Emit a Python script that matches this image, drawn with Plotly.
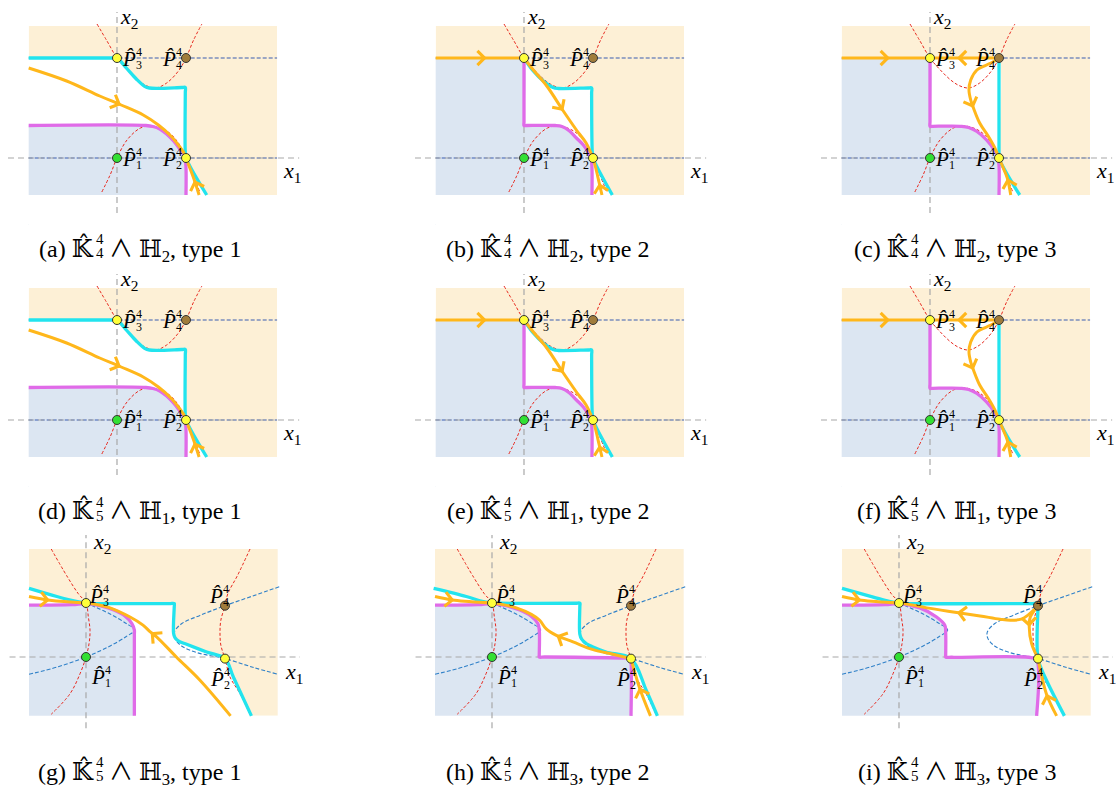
import math
import plotly.graph_objects as go

W, H = 1118, 791

# ------------------------------------------------------------------ text
PANEL_LETTERS = ["a", "b", "c", "d", "e", "f", "g", "h", "i"]
K_SUBSCRIPTS = ["4", "4", "4", "5", "5", "5", "5", "5", "5"]
H_SUBSCRIPTS = ["2", "2", "2", "1", "1", "1", "3", "3", "3"]
TYPE_NUMBERS = ["1", "2", "3", "1", "2", "3", "1", "2", "3"]
POINT_NAMES = ["1", "2", "3", "4"]

# ------------------------------------------------------------------ data (panel units: P1=(0,0), P2=(1,0), P3=(0,1))
PTS_TOP_X = [0, 1, 0, 1]
PTS_TOP_Y = [0, 0, 1, 1]
PTS_BOT_X = [0, 1, 0, 1]
PTS_BOT_Y = [0, -0.03, 1, 0.95]

RECT_TOP_X = [-1.28, 2.32]
RECT_TOP_Y = [-0.37, 1.32]
RECT_BOT_X = [-0.41, 1.38]
RECT_BOT_Y = [-1.09, 2.0]

AXIS_TOP_H_X = [-1.58, 2.64]
AXIS_TOP_V_Y = [-0.55, 1.46]
AXIS_BOT_H_X = [-0.55, 1.54]
AXIS_BOT_V_Y = [-1.32, 2.26]
BLUE_LEVELS_TOP = [0, 1]

RED_UP_X = [-0.29, -0.145, 0, 0.15, 0.3, 0.42, 0.56, 0.72, 0.89, 1, 1.11, 1.23]
RED_UP_Y = [1.34, 1.17, 1, 0.88, 0.78, 0.725, 0.70, 0.75, 0.87, 1, 1.18, 1.34]
RED_LO_X = [-0.22, -0.1, 0, 0.145, 0.34, 0.51, 0.72, 0.88, 1, 1.1, 1.2]
RED_LO_Y = [-0.34, -0.17, 0, 0.18, 0.30, 0.32, 0.27, 0.16, 0, -0.17, -0.34]

RED_L_X = [-0.25, -0.14, -0.055, 0, 0.017, 0.029, 0.022, 0, -0.043, -0.115, -0.25]
RED_L_Y = [2.0, 1.51, 1.17, 1.0, 0.74, 0.49, 0.25, 0, -0.31, -0.68, -1.06]
RED_R_X = [1.18, 1.09, 1.02, 1.0, 0.97, 0.964, 0.97, 1.0, 1.036, 1.108, 1.18]
RED_R_Y = [2.0, 1.51, 1.17, 0.95, 0.68, 0.46, 0.22, -0.03, -0.37, -0.68, -1.06]
BLUE_L_X = [-0.41, -0.2, 0, 0.17, 0.29, 0.35, 0.29, 0.17, 0]
BLUE_L_Y = [-0.32, -0.18, 0, 0.2, 0.38, 0.5, 0.62, 0.8, 1]
BLUE_R_X = [1.39, 1.2, 1.0, 0.82, 0.69, 0.635, 0.64, 0.69, 0.8, 1.0, 1.2, 1.38]
BLUE_R_Y = [1.30, 1.13, 0.95, 0.77, 0.62, 0.46, 0.34, 0.2, 0.08, -0.03, -0.19, -0.32]

LEAD_LEFT_X = [-1.28, -0.05]
LEAD_LEFT_Y = [1, 1]
LEAD_C_X = [-1.28, 0.95]
LEAD_C_Y = [1, 1]

CYAN_A_X = [-1.28, -0.05, 0, 0.135, 0.28, 0.40, 0.47, 0.94, 0.99, 0.99, 0.99, 1.0, 1.3]
CYAN_A_Y = [1.0, 1.0, 1.0, 0.90, 0.79, 0.717, 0.70, 0.705, 0.705, 0.66, 0.05, 0.0, -0.37]
MAG_A_X = [-1.28, 0.42, 0.52, 0.62, 0.72, 0.82, 0.9, 0.96, 0.99, 1.0, 1.0]
MAG_A_Y = [0.325, 0.325, 0.315, 0.29, 0.24, 0.17, 0.1, 0.04, -0.02, -0.1, -0.37]
ORANGE_A1_X = [-1.28, -0.73, -0.25, 0.06, 0.38, 0.6, 0.78, 0.9, 0.97, 1.0]
ORANGE_A1_Y = [0.90, 0.77, 0.62, 0.53, 0.43, 0.33, 0.22, 0.12, 0.05, 0.0]
ORANGE_A2_X = [1.19, 1.12, 1.05, 1.0]
ORANGE_A2_Y = [-0.37, -0.22, -0.09, 0.0]

CYAN_B_X = [0, 0.135, 0.28, 0.42, 0.5, 0.93, 0.98, 0.98, 0.99, 1.0, 1.28]
CYAN_B_Y = [1, 0.87, 0.77, 0.705, 0.695, 0.70, 0.70, 0.65, 0.05, 0.0, -0.37]
MAG_B_X = [0, 0, 0, 0.04, 0.45, 0.55, 0.66, 0.76, 0.86, 0.93, 0.975, 0.985, 0.985]
MAG_B_Y = [1, 0.36, 0.325, 0.325, 0.325, 0.315, 0.27, 0.2, 0.13, 0.06, -0.02, -0.1, -0.37]
ORANGE_B1_X = [-1.28, -0.54, 0]
ORANGE_B1_Y = [1, 1, 1]
ORANGE_B2_X = [0, 0.135, 0.33, 0.57, 0.76, 0.9, 1.0]
ORANGE_B2_Y = [1, 0.88, 0.72, 0.47, 0.28, 0.15, 0.0]
ORANGE_B3_X = [1.13, 1.09, 1.04, 1.0]
ORANGE_B3_Y = [-0.37, -0.25, -0.1, 0]

CYAN_C_X = [1, 1, 1, 1.3]
CYAN_C_Y = [1, 0.05, 0, -0.37]
MAG_C_X = [0, 0, 0, 0.04, 0.46, 0.56, 0.68, 0.82, 0.94, 0.985, 1.0, 1.0]
MAG_C_Y = [1, 0.36, 0.317, 0.317, 0.317, 0.305, 0.265, 0.18, 0.07, 0.0, -0.07, -0.37]
ORANGE_C1_X = [-1.28, -0.58, 0]
ORANGE_C1_Y = [1, 1, 1]
ORANGE_C2_X = [1, 0.39, 0]
ORANGE_C2_Y = [1, 1, 1]
ORANGE_C3_X = [0.97, 0.82, 0.68, 0.59, 0.565, 0.59, 0.63, 0.72, 0.845, 0.94, 1.0]
ORANGE_C3_Y = [0.98, 0.93, 0.88, 0.78, 0.68, 0.58, 0.50, 0.35, 0.217, 0.10, 0.0]
ORANGE_C4_X = [1.17, 1.12, 1.05, 1.0]
ORANGE_C4_Y = [-0.37, -0.2, -0.08, 0]

CYAN_G_X = [-0.41, -0.21, -0.07, 0, 0.06, 0.6, 0.635, 0.635, 0.63, 0.64, 0.67, 0.724, 0.868, 1.0, 1.06, 1.19]
CYAN_G_Y = [1.27, 1.12, 1.03, 1.0, 0.99, 0.99, 0.99, 0.94, 0.44, 0.36, 0.29, 0.235, 0.093, -0.03, -0.37, -1.09]
MAG_G_X = [-0.41, -0.1, 0, 0.1, 0.2, 0.28, 0.33, 0.348, 0.348, 0.348]
MAG_G_Y = [0.96, 0.97, 0.99, 0.95, 0.87, 0.76, 0.62, 0.5, 0.42, -1.09]
ORANGE_G1_X = [-0.41, -0.26, 0]
ORANGE_G1_Y = [1.12, 1.05, 1.0]
ORANGE_G2_X = [1.04, 0.82, 0.65, 0.51, 0.465, 0.41, 0.317, 0.173, 0.08, 0]
ORANGE_G2_Y = [-1.09, -0.43, 0.0, 0.37, 0.46, 0.59, 0.74, 0.91, 0.97, 1.0]

CYAN_H_X = [-0.42, -0.185, -0.07, 0, 0.06, 0.6, 0.632, 0.632, 0.632, 0.645, 0.68, 0.727, 0.82, 1.0, 1.11, 1.19]
CYAN_H_Y = [1.27, 1.12, 1.03, 1.0, 0.995, 0.995, 0.995, 0.94, 0.42, 0.33, 0.245, 0.185, 0.09, -0.03, -0.62, -1.09]
MAG_H_X = [-0.41, -0.1, 0, 0.1, 0.2, 0.28, 0.33, 0.34, 0.34, 0.34, 0.38, 0.95, 0.995, 1.0, 1.0]
MAG_H_Y = [0.96, 0.97, 0.99, 0.95, 0.87, 0.76, 0.62, 0.5, 0.04, 0.0, 0.0, -0.02, -0.03, -0.08, -1.09]
ORANGE_H1_X = [-0.41, -0.27, 0]
ORANGE_H1_Y = [1.12, 1.05, 1.0]
ORANGE_H2_X = [1.0, 0.87, 0.727, 0.583, 0.463, 0.39, 0.343, 0.283, 0.175, 0.08, 0]
ORANGE_H2_Y = [-0.03, 0.05, 0.136, 0.28, 0.40, 0.52, 0.68, 0.79, 0.91, 0.97, 1.0]
ORANGE_H3_X = [1.14, 1.06, 1.0]
ORANGE_H3_Y = [-1.09, -0.56, -0.03]

CYAN_I_X = [-0.41, -0.185, -0.07, 0, 0.06, 0.95, 1.0, 1.0, 1.0, 1.05, 1.19]
CYAN_I_Y = [1.27, 1.11, 1.03, 1.0, 0.99, 0.99, 0.99, 0.93, -0.03, -0.37, -1.09]
MAG_I_X = [-0.41, -0.1, 0, 0.15, 0.27, 0.33, 0.336, 0.336, 0.336, 0.38, 0.95, 0.99, 0.99]
MAG_I_Y = [0.96, 0.97, 0.99, 0.91, 0.74, 0.586, 0.43, 0.04, 0.0, -0.005, -0.01, -0.05, -1.09]
ORANGE_I1_X = [-0.41, -0.27, 0]
ORANGE_I1_Y = [1.12, 1.05, 1.0]
ORANGE_I2_X = [1.0, 0.93, 0.88, 0.8, 0.727, 0.583, 0.415, 0.2, 0.08, 0]
ORANGE_I2_Y = [0.95, 0.78, 0.70, 0.68, 0.70, 0.76, 0.825, 0.91, 0.97, 1.0]
ORANGE_I3_X = [1.0, 0.945, 0.937, 0.954, 1.0]
ORANGE_I3_Y = [0.95, 0.74, 0.555, 0.247, -0.03]
ORANGE_I4_X = [1.134, 1.06, 1.0]
ORANGE_I4_Y = [-1.09, -0.68, -0.03]

# ------------------------------------------------------------------ styling / layout
ORANGE_BG = "#FDF0D6"
BLUE_BG = "#DCE6F2"
CYAN = "#22E4EE"
MAGENTA = "#E06BE8"
ORANGE = "#FFB71B"
RED = "#E8281E"
BLUE_DASH_TOP = "#3A5DB0"
BLUE_DASH_BOT = "#2F80C8"
GREY = "#A8A8A8"
POINT_COLORS = ["#33E033", "#FFFF3A", "#FFFF3A", "#A07C3C"]
SERIF = "Liberation Serif, DejaVu Serif, serif"
WEDGE = "<span style=\"font-family:'Noto Sans CJK JP'\">\u2227</span>"

TOP_GEOM = dict(ux=69, uy=100, box=(-117, 185, -158, 67))
BOT_GEOM = dict(ux=139, uy=54, box=(-86, 218, -132, 73))
COL_X_TOP = [117, 524, 930]
ROW_Y_TOP = [158, 420]
COL_X_BOT = [86, 492, 899]
ROW_Y_BOT = 657
TOP_LABEL_OFF = [(12, 1), (-17, 1), (12, 1), (-17, 1)]
BOT_LABEL_OFF = [(12, 20), (-8, 20), (10, -7), (-9, -10)]
CAP_CX = [158, 566, 973]
CAP_CY = [247, 510, 770]

TOP_SETS = [
    dict(cyan=(CYAN_A_X, CYAN_A_Y), mag=(MAG_A_X, MAG_A_Y),
         wlead=([], []), blead=([], []),
         orange=[(ORANGE_A1_X, ORANGE_A1_Y, [3]), (ORANGE_A2_X, ORANGE_A2_Y, [1])]),
    dict(cyan=(CYAN_B_X, CYAN_B_Y), mag=(MAG_B_X, MAG_B_Y),
         wlead=(LEAD_LEFT_X, LEAD_LEFT_Y), blead=(LEAD_LEFT_X, LEAD_LEFT_Y),
         orange=[(ORANGE_B1_X, ORANGE_B1_Y, [1]), (ORANGE_B2_X, ORANGE_B2_Y, [3]),
                 (ORANGE_B3_X, ORANGE_B3_Y, [1])]),
    dict(cyan=(CYAN_C_X, CYAN_C_Y), mag=(MAG_C_X, MAG_C_Y),
         wlead=(LEAD_C_X, LEAD_C_Y), blead=(LEAD_LEFT_X, LEAD_LEFT_Y),
         orange=[(ORANGE_C1_X, ORANGE_C1_Y, [1]), (ORANGE_C2_X, ORANGE_C2_Y, [1]),
                 (ORANGE_C3_X, ORANGE_C3_Y, [6]), (ORANGE_C4_X, ORANGE_C4_Y, [1])]),
]
BOT_SETS = [
    dict(cyan=(CYAN_G_X, CYAN_G_Y), mag=(MAG_G_X, MAG_G_Y), wlead=([], []), blead=([], []),
         orange=[(ORANGE_G1_X, ORANGE_G1_Y, [1]), (ORANGE_G2_X, ORANGE_G2_Y, [4])]),
    dict(cyan=(CYAN_H_X, CYAN_H_Y), mag=(MAG_H_X, MAG_H_Y), wlead=([], []), blead=([], []),
         orange=[(ORANGE_H1_X, ORANGE_H1_Y, [1]), (ORANGE_H2_X, ORANGE_H2_Y, [4]),
                 (ORANGE_H3_X, ORANGE_H3_Y, [1])]),
    dict(cyan=(CYAN_I_X, CYAN_I_Y), mag=(MAG_I_X, MAG_I_Y), wlead=([], []), blead=([], []),
         orange=[(ORANGE_I1_X, ORANGE_I1_Y, [1]), (ORANGE_I2_X, ORANGE_I2_Y, [6]),
                 (ORANGE_I3_X, ORANGE_I3_Y, [2]), (ORANGE_I4_X, ORANGE_I4_Y, [1])]),
]

fig = go.Figure()
annotations = []
layout_axes = {}


def add_line(xs, ys, xr, yr, color, width, dash=None, shape="spline"):
    fig.add_trace(go.Scatter(
        x=list(xs), y=list(ys), xaxis=xr, yaxis=yr, mode="lines",
        line=dict(color=color, width=width, dash=dash, shape=shape, smoothing=1, simplify=False),
        hoverinfo="skip", showlegend=False))


def add_fill(xs, ys, xr, yr, color, shape="spline"):
    fig.add_trace(go.Scatter(
        x=list(xs), y=list(ys), xaxis=xr, yaxis=yr, mode="lines", fill="toself",
        fillcolor=color, line=dict(width=0, color=color, shape=shape, smoothing=1, simplify=False),
        hoverinfo="skip", showlegend=False))


def region_below(xs, ys, ux, uy, far_x, far_y):
    def ext(p, q):
        dx, dy = (p[0] - q[0]) * ux, (p[1] - q[1]) * uy
        n = math.hypot(dx, dy) or 1.0
        return p[0] + dx / n * 30 / ux, p[1] + dy / n * 30 / uy
    s = ext((xs[0], ys[0]), (xs[1], ys[1]))
    e = ext((xs[-1], ys[-1]), (xs[-2], ys[-2]))
    X = [far_x, s[0]] + list(xs) + [e[0], e[0], far_x]
    Y = [s[1], s[1]] + list(ys) + [e[1], far_y, far_y]
    return X, Y


def add_arrow(xs, ys, k, ux, uy, xr, yr, color, width, size, head, back=8):
    k0, k1 = max(k - 1, 0), min(k + 1, len(xs) - 1)
    dx, dy = (xs[k1] - xs[k0]) * ux, (ys[k1] - ys[k0]) * uy
    n = math.hypot(dx, dy)
    annotations.append(dict(
        x=xs[k], y=ys[k], ax=xs[k] - dx / n * back / ux, ay=ys[k] - dy / n * back / uy,
        xref=xr, yref=yr, axref=xr, ayref=yr, showarrow=True, text="",
        arrowhead=head, arrowsize=size, arrowwidth=width, arrowcolor=color, standoff=0))


for k in range(9):
    row, col = k // 3, k % 3
    top = row < 2
    G = TOP_GEOM if top else BOT_GEOM
    S = (TOP_SETS if top else BOT_SETS)[col]
    ux, uy = G["ux"], G["uy"]
    p1x = COL_X_TOP[col] if top else COL_X_BOT[col]
    p1y = ROW_Y_TOP[row] if top else ROW_Y_BOT
    bx0 = max(p1x + G["box"][0], 0)
    bx1 = min(p1x + G["box"][1], W)
    by0 = max(p1y + G["box"][2], 0)
    by1 = min(p1y + G["box"][3], H)
    sfx = "" if k == 0 else str(k + 1)
    xr, yr = "x" + sfx, "y" + sfx
    xrange_ = [(bx0 - p1x) / ux, (bx1 - p1x) / ux]
    yrange_ = [(p1y - by1) / uy, (p1y - by0) / uy]
    layout_axes["xaxis" + sfx] = dict(domain=[bx0 / W, bx1 / W], range=xrange_, visible=False,
                                      fixedrange=True, anchor=yr)
    layout_axes["yaxis" + sfx] = dict(domain=[1 - by1 / H, 1 - by0 / H], range=yrange_, visible=False,
                                      fixedrange=True, anchor=xr)
    RX = RECT_TOP_X if top else RECT_BOT_X
    RY = RECT_TOP_Y if top else RECT_BOT_Y
    far_x, far_y = xrange_[0] - 1, yrange_[0] - 1
    fx0, fx1, fy0, fy1 = xrange_[0] - 1, xrange_[1] + 1, yrange_[0] - 1, yrange_[1] + 1

    add_fill([RX[0], RX[1], RX[1], RX[0]], [RY[0], RY[0], RY[1], RY[1]], xr, yr, ORANGE_BG, "linear")
    wx, wy = region_below(S["wlead"][0] + S["cyan"][0], S["wlead"][1] + S["cyan"][1], ux, uy, far_x, far_y)
    add_fill(wx, wy, xr, yr, "white")
    bxs, bys = region_below(S["blead"][0] + S["mag"][0], S["blead"][1] + S["mag"][1], ux, uy, far_x, far_y)
    add_fill(bxs, bys, xr, yr, BLUE_BG)
    mx = [fx0, RX[0], RX[0], fx0, None, RX[1], fx1, fx1, RX[1], None,
          RX[0], RX[1], RX[1], RX[0], None, RX[0], RX[1], RX[1], RX[0]]
    my = [fy0, fy0, fy1, fy1, None, fy0, fy0, fy1, fy1, None,
          RY[1], RY[1], fy1, fy1, None, fy0, fy0, RY[0], RY[0]]
    add_fill(mx, my, xr, yr, "white", "linear")

    if top:
        add_line(RED_UP_X, RED_UP_Y, xr, yr, RED, 1, "3px,2px")
        add_line(RED_LO_X, RED_LO_Y, xr, yr, RED, 1, "3px,2px")
        for lv in BLUE_LEVELS_TOP:
            add_line(RX, [lv, lv], xr, yr, BLUE_DASH_TOP, 1.1, "4px,2px", "linear")
        hx, vy = AXIS_TOP_H_X, AXIS_TOP_V_Y
    else:
        add_line(RED_L_X, RED_L_Y, xr, yr, RED, 1, "3px,2px")
        add_line(RED_R_X, RED_R_Y, xr, yr, RED, 1, "3px,2px")
        add_line(BLUE_L_X, BLUE_L_Y, xr, yr, BLUE_DASH_BOT, 1.1, "4px,2px")
        add_line(BLUE_R_X, BLUE_R_Y, xr, yr, BLUE_DASH_BOT, 1.1, "4px,2px")
        hx, vy = AXIS_BOT_H_X, AXIS_BOT_V_Y

    add_line(hx, [0, 0], xr, yr, GREY, 1.2, "6px,4px", "linear")
    add_line([0, 0], vy, xr, yr, GREY, 1.2, "6px,4px", "linear")
    add_arrow(hx, [0, 0], 1, ux, uy, xr, yr, GREY, 1, 1.3, 5, back=4)
    add_arrow([0, 0], vy, 1, ux, uy, xr, yr, GREY, 1, 1.3, 5, back=4)
    annotations.append(dict(x=(2.38 if top else 1.42), y=(-0.14 if top else -0.30), xref=xr, yref=yr,
                            text="<i>x</i><sub>1</sub>", showarrow=False, xanchor="left",
                            font=dict(family=SERIF, size=22, color="black")))
    annotations.append(dict(x=(0.015 if top else 0.035), y=(1.40 if top else 2.11), xref=xr, yref=yr,
                            text="<i>x</i><sub>2</sub>", showarrow=False, xanchor="left",
                            font=dict(family=SERIF, size=22, color="black")))

    add_line(*S["mag"], xr, yr, MAGENTA, 3.3)
    add_line(*S["cyan"], xr, yr, CYAN, 3.3)
    for ox, oy, arrows in S["orange"]:
        add_line(ox, oy, xr, yr, ORANGE, 3.0)
        for a in arrows:
            add_arrow(ox, oy, a, ux, uy, xr, yr, ORANGE, 2.5, 1.1, 4)

    PX = PTS_TOP_X if top else PTS_BOT_X
    PY = PTS_TOP_Y if top else PTS_BOT_Y
    fig.add_trace(go.Scatter(x=PX, y=PY, xaxis=xr, yaxis=yr, mode="markers",
                             marker=dict(size=9, color=POINT_COLORS, line=dict(color="#333333", width=1)),
                             hoverinfo="skip", showlegend=False))
    offs = TOP_LABEL_OFF if top else BOT_LABEL_OFF
    for j in range(4):
        dx, dy = offs[j]
        annotations.append(dict(x=PX[j], y=PY[j], xref=xr, yref=yr, text="<i>P\u0302</i>",
                                showarrow=False, xshift=dx, yshift=-dy,
                                font=dict(family=SERIF, size=21, color="black")))
        annotations.append(dict(x=PX[j], y=PY[j], xref=xr, yref=yr, text="4",
                                showarrow=False, xshift=dx + 9.5, yshift=-(dy - 7),
                                font=dict(family=SERIF, size=12, color="black")))
        annotations.append(dict(x=PX[j], y=PY[j], xref=xr, yref=yr, text=POINT_NAMES[j],
                                showarrow=False, xshift=dx + 9.5, yshift=-(dy + 6),
                                font=dict(family=SERIF, size=12, color="black")))

    cx, cy = CAP_CX[col], CAP_CY[row]
    cap_font = dict(family=SERIF, size=24, color="black")
    annotations.append(dict(x=(cx - 62) / W, y=1 - cy / H, xref="paper", yref="paper", showarrow=False,
                            xanchor="right", yanchor="middle",
                            text="(" + PANEL_LETTERS[k] + ") \U0001D542\u0302", font=cap_font))
    annotations.append(dict(x=(cx - 58) / W, y=1 - (cy - 8) / H, xref="paper", yref="paper", showarrow=False,
                            xanchor="center", yanchor="middle", text="4",
                            font=dict(family=SERIF, size=15, color="black")))
    annotations.append(dict(x=(cx - 58) / W, y=1 - (cy + 6) / H, xref="paper", yref="paper", showarrow=False,
                            xanchor="center", yanchor="middle", text=K_SUBSCRIPTS[k],
                            font=dict(family=SERIF, size=15, color="black")))
    annotations.append(dict(x=(cx - 51) / W, y=1 - cy / H, xref="paper", yref="paper", showarrow=False,
                            xanchor="left", yanchor="middle",
                            text=WEDGE + " \u210D<sub>" + H_SUBSCRIPTS[k] + "</sub>, type " + TYPE_NUMBERS[k],
                            font=cap_font))

fig.update_layout(
    width=W, height=H, margin=dict(l=0, r=0, t=0, b=0),
    paper_bgcolor="white", plot_bgcolor="rgba(0,0,0,0)",
    showlegend=False, annotations=annotations, **layout_axes)

fig.write_html("out.html")
